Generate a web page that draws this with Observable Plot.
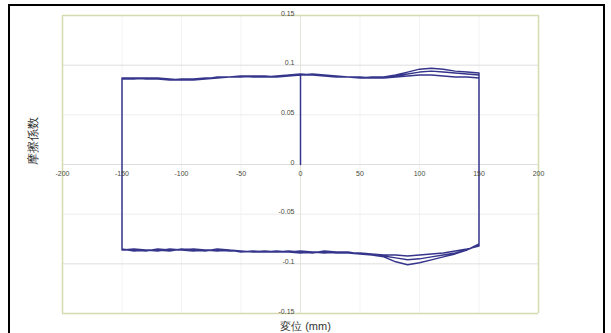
<!DOCTYPE html>
<html>
<head>
<meta charset="utf-8">
<script src="https://cdn.jsdelivr.net/npm/d3@7"></script>
<script src="https://cdn.jsdelivr.net/npm/@observablehq/plot@0.6"></script>
<style>
  html, body { margin: 0; padding: 0; background: #fff; overflow: hidden; }
  #wrap { position: relative; width: 611px; height: 333px; overflow: hidden; }
  #frame { position: absolute; left: 8px; top: 4px; width: 593px; height: 400px; border: 2px solid #000; }
  #chart { position: absolute; left: 0; top: 0; }
</style>
</head>
<body>
<div id="wrap"><div id="frame"></div><div id="chart"></div></div>
<script>
// Displacement stations (mm) for the sliding passes
const xs = [-150,-140,-130,-120,-110,-100,-90,-80,-70,-60,-50,-40,-30,-20,-10,0,10,20,30,40,50,60,70,80,90,100,110,120,130,140,150];

// Upper (positive) friction coefficient passes, listed from x=-150 to x=150
const upperA = [0.086,0.087,0.087,0.086,0.086,0.085,0.085,0.086,0.087,0.088,0.089,0.088,0.088,0.089,0.090,0.091,0.090,0.089,0.089,0.088,0.088,0.087,0.088,0.090,0.093,0.096,0.097,0.096,0.094,0.093,0.092];
const upperB = [0.087,0.087,0.086,0.086,0.085,0.086,0.086,0.087,0.087,0.088,0.088,0.089,0.089,0.088,0.089,0.090,0.091,0.090,0.089,0.088,0.087,0.088,0.088,0.089,0.091,0.093,0.094,0.093,0.092,0.091,0.090];
const upperC = [0.086,0.086,0.087,0.087,0.086,0.085,0.086,0.086,0.088,0.088,0.089,0.089,0.088,0.088,0.090,0.090,0.090,0.089,0.088,0.088,0.088,0.087,0.087,0.088,0.089,0.090,0.090,0.089,0.088,0.088,0.087];

// Lower (negative) friction coefficient passes, listed from x=-150 to x=150
const lowerA = [-0.086,-0.086,-0.087,-0.085,-0.086,-0.086,-0.085,-0.086,-0.086,-0.087,-0.087,-0.088,-0.088,-0.087,-0.088,-0.089,-0.088,-0.088,-0.089,-0.089,-0.090,-0.091,-0.093,-0.098,-0.101,-0.099,-0.096,-0.093,-0.090,-0.086,-0.080];
const lowerB = [-0.085,-0.087,-0.086,-0.086,-0.087,-0.085,-0.086,-0.087,-0.085,-0.086,-0.088,-0.087,-0.088,-0.088,-0.087,-0.088,-0.089,-0.087,-0.088,-0.089,-0.089,-0.090,-0.092,-0.094,-0.096,-0.095,-0.093,-0.091,-0.089,-0.086,-0.081];
const lowerC = [-0.086,-0.085,-0.086,-0.087,-0.085,-0.086,-0.087,-0.086,-0.087,-0.086,-0.087,-0.088,-0.087,-0.088,-0.088,-0.087,-0.088,-0.089,-0.088,-0.088,-0.090,-0.090,-0.091,-0.091,-0.092,-0.091,-0.090,-0.089,-0.087,-0.085,-0.082];

// Axis ticks
const xTicks = [-200,-150,-100,-50,0,50,100,150,200];
const yTicks = [0.15,0.1,0.05,0,-0.05,-0.1,-0.15];
const yLabels = ["0.15","0.1","0.05","0","-0.05","-0.1","-0.15"];
const xTitle = "変位 (mm)";
const yTitle = "摩擦係数";

// Build the loop path in drawing order
const path = [];
path.push({x: 0, y: 0});
const iZero = xs.indexOf(0);
for (let i = iZero; i < xs.length; i++) path.push({x: xs[i], y: upperA[i]});
const fwd = (arr) => { for (let i = 0; i < xs.length; i++) path.push({x: xs[i], y: arr[i]}); };
const back = (arr) => { for (let i = xs.length - 1; i >= 0; i--) path.push({x: xs[i], y: arr[i]}); };
back(lowerA); fwd(upperB); back(lowerB); fwd(upperC); back(lowerC);
for (let i = 0; i <= iZero; i++) path.push({x: xs[i], y: upperA[i]});

const font = "Liberation Sans, Arial, sans-serif";
const frameCol = "#d6dab0";

const chart = Plot.plot({
  width: 611,
  height: 333,
  marginLeft: 62,
  marginRight: 73,
  marginTop: 15,
  marginBottom: 20,
  style: {background: "transparent", fontFamily: font, overflow: "visible"},
  x: {domain: [-200, 200], axis: null},
  y: {domain: [-0.15, 0.15], axis: null},
  marks: [
    Plot.ruleX([-150,-100,-50,50,100,150], {stroke: "#f3f3f3", strokeWidth: 1}),
    Plot.ruleY([0.05,-0.05], {stroke: "#ededed", strokeWidth: 1}),
    Plot.ruleY([0.1, 0, -0.1], {stroke: "#dedede", strokeWidth: 1}),
    Plot.ruleX([0], {stroke: "#e4e4d8", strokeWidth: 1}),
    Plot.ruleY([0.15, -0.15], {stroke: frameCol, strokeWidth: 1.5}),
    Plot.ruleX([-200, 200], {stroke: frameCol, strokeWidth: 1.5}),
    Plot.line(path, {x: "x", y: "y", stroke: "#35358c", strokeWidth: 1.5, strokeLinejoin: "round"}),
    Plot.text(yTicks, {x: 0, y: d => d, text: (d, i) => yLabels[i], textAnchor: "end", dx: -6, dy: -2, fontSize: 7, fill: "#4a4a3a"}),
    Plot.text(xTicks, {x: d => d, y: 0, text: d => String(d), dy: 9, fontSize: 7, fill: "#4a4a3a"}),
    Plot.text([yTitle], {frameAnchor: "left", dx: -29, rotate: -90, fontSize: 12, fill: "#333", text: d => d}),
    Plot.text([xTitle], {frameAnchor: "bottom", dx: 5, dy: 16, lineAnchor: "bottom", fontSize: 11, fill: "#333", text: d => d})
  ]
});
document.getElementById("chart").appendChild(chart);
</script>
</body>
</html>
